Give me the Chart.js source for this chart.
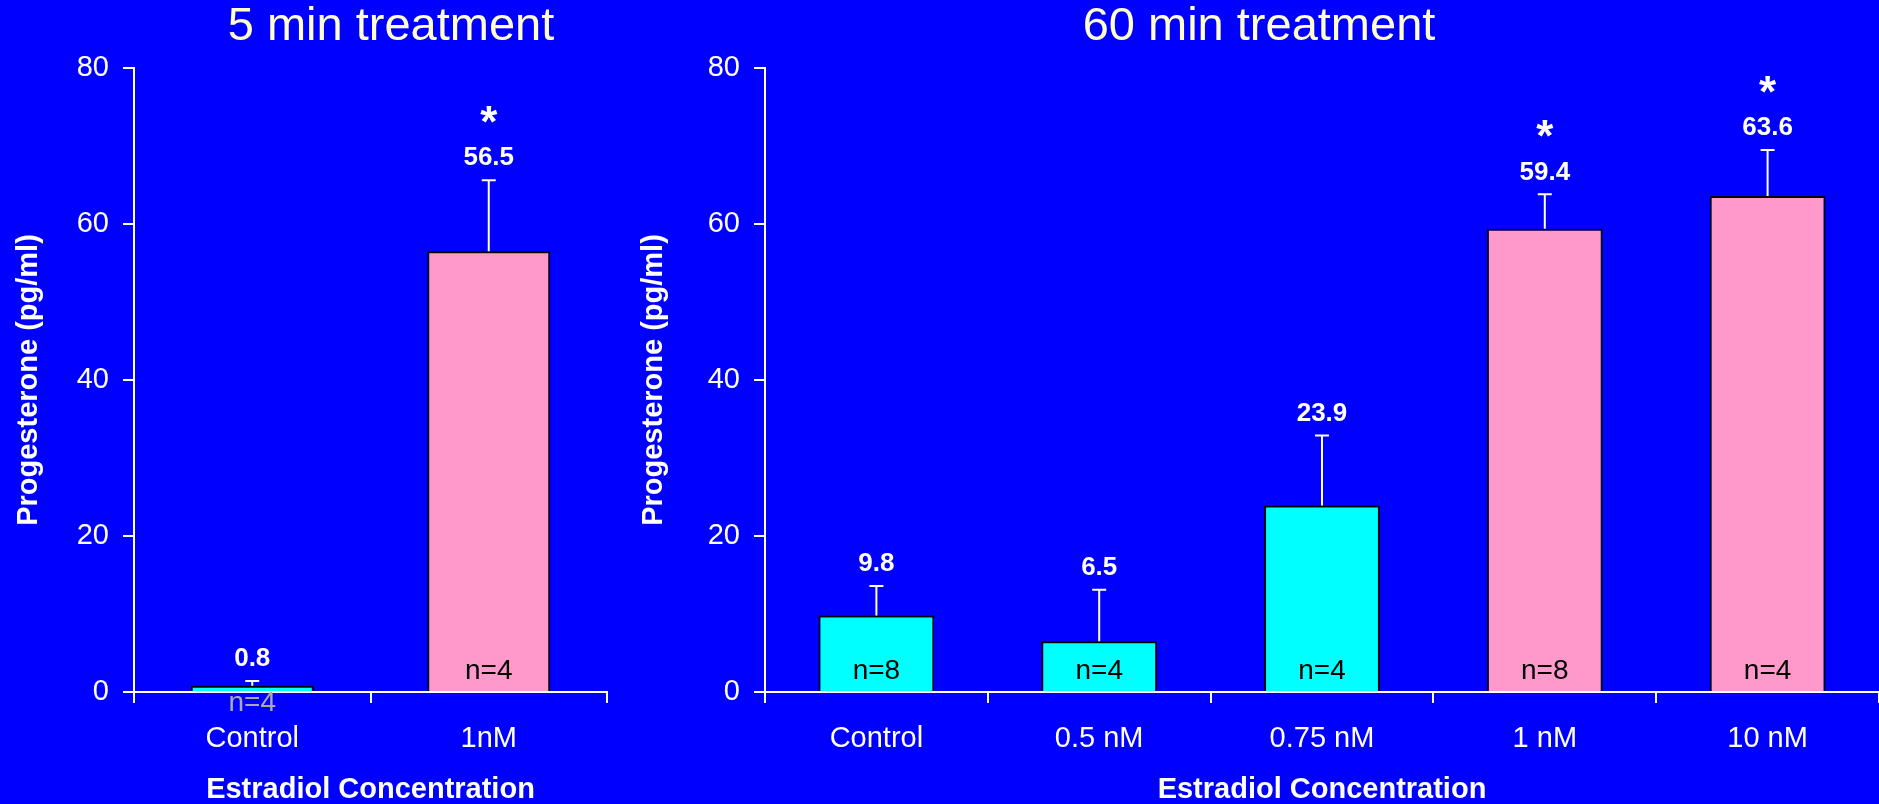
<!DOCTYPE html>
<html>
<head>
<meta charset="utf-8">
<script src="https://cdn.jsdelivr.net/npm/chart.js@4.4.1/dist/chart.umd.min.js"></script>
<style>
  html, body { margin: 0; padding: 0; background: #0000ff; overflow: hidden; }
  body { width: 1879px; height: 804px; position: relative; }
  .box { position: absolute; top: 0; height: 804px; }
  #left { left: 0; width: 782px; }
  #right { left: 639px; width: 1240px; }
</style>
</head>
<body>
<div class="box" id="left"><canvas id="chart5"></canvas></div>
<div class="box" id="right"><canvas id="chart60"></canvas></div>
<script>
// ---- data ----
const labels5 = ["Control", "1nM"];
const means5 = [0.8, 56.5];
const sem5 = [0.6, 9.1];
const n5 = ["n=4", "n=4"];
const sig5 = [false, true];
const colors5 = ["#00ffff", "#ff99cc"];

const labels60 = ["Control", "0.5 nM", "0.75 nM", "1 nM", "10 nM"];
const means60 = [9.8, 6.5, 23.9, 59.4, 63.6];
const sem60 = [3.8, 6.6, 9.0, 4.4, 5.9];
const n60 = ["n=8", "n=4", "n=4", "n=8", "n=4"];
const sig60 = [false, false, false, true, true];
const colors60 = ["#00ffff", "#00ffff", "#00ffff", "#ff99cc", "#ff99cc"];

const yTicks = [0, 20, 40, 60, 80];

const FONT = "'Liberation Sans', Arial, sans-serif";

// error bars, value labels, stars and n= labels
const errorBars = {
  id: 'errorBars',
  afterDatasetsDraw(chart, args, opts) {
    const ctx = chart.ctx;
    const yScale = chart.scales.y;
    const vals = chart.data.datasets[0].data;
    const meta = chart.getDatasetMeta(0);
    ctx.save();
    meta.data.forEach((bar, i) => {
      const x = bar.x;
      const top = yScale.getPixelForValue(vals[i] + opts.sem[i]);
      // whisker
      ctx.strokeStyle = '#ffffff';
      ctx.lineWidth = 2;
      ctx.beginPath();
      ctx.moveTo(x, bar.y);
      ctx.lineTo(x, top);
      ctx.moveTo(x - 7, top);
      ctx.lineTo(x + 7, top);
      ctx.stroke();
      // value
      ctx.fillStyle = '#ffffff';
      ctx.textAlign = 'center';
      ctx.textBaseline = 'middle';
      ctx.font = "bold 26px " + FONT;
      const ly = top - 22;
      ctx.fillText(vals[i].toFixed(1), x, ly);
      if (opts.sig[i]) {
        ctx.font = "bold 44px " + FONT;
        ctx.textBaseline = 'alphabetic';
        ctx.fillText('*', x, ly - 46 + 25);
      }
      // n label
      ctx.font = "28px " + FONT;
      ctx.textBaseline = 'middle';
      if (bar.base - bar.y < 40) {
        ctx.fillStyle = '#aaaaaa';
        ctx.fillText(opts.n[i], x, bar.base + 12);
      } else {
        ctx.fillStyle = '#000000';
        ctx.fillText(opts.n[i], x, bar.base - 20);
      }
    });
    ctx.restore();
  }
};

function makeChart(id, title, labels, means, colors, sem, nLab, sig, axisWidth, padRight, yTitlePad) {
  const scales = {
    x: {
      grid: {
        display: true, drawOnChartArea: false, drawTicks: true,
        tickLength: 11, color: '#ffffff', lineWidth: 2, offset: true
      },
      border: { display: true, color: '#ffffff', width: 2 },
      ticks: { color: '#ffffff', font: { family: FONT, size: 29 }, padding: 19 },
      title: {
        display: true, text: 'Estradiol Concentration', color: '#ffffff',
        font: { family: FONT, size: 29, weight: 'bold', lineHeight: 1 },
        padding: { top: 0, bottom: 0 }
      },
      afterFit(scale) { scale.height = 804 - 692; }
    },
    y: {
      min: 0,
      max: 80,
      afterBuildTicks(scale) { scale.ticks = yTicks.map(v => ({ value: v })); },
      grid: {
        display: true, drawOnChartArea: false, drawTicks: true,
        tickLength: 11, color: '#ffffff', lineWidth: 2
      },
      border: { display: true, color: '#ffffff', width: 2 },
      ticks: { color: '#ffffff', font: { family: FONT, size: 29 }, padding: 14 },
      title: {
        display: true, text: 'Progesterone (pg/ml)', color: '#ffffff',
        font: { family: FONT, size: 29, weight: 'bold', lineHeight: 1 },
        padding: { top: yTitlePad, bottom: 0 }
      },
      afterFit(scale) { scale.width = axisWidth; }
    }
  };
  if (padRight > 0) {
    // empty spacer axis so the title stays centred on the whole canvas
    scales.spacer = {
      type: 'linear', position: 'right', display: true,
      grid: { display: false }, border: { display: false }, ticks: { display: false },
      afterFit(scale) { scale.width = padRight; }
    };
  }
  return new Chart(document.getElementById(id), {
    type: 'bar',
    data: {
      labels: labels,
      datasets: [{
        data: means,
        backgroundColor: colors,
        borderColor: '#000000',
        borderWidth: 2,
        barPercentage: 0.52,
        categoryPercentage: 1.0
      }]
    },
    options: {
      responsive: true,
      maintainAspectRatio: false,
      animation: false,
      layout: { padding: 0 },
      plugins: {
        legend: { display: false },
        tooltip: { enabled: false },
        title: {
          display: true,
          text: title,
          color: '#ffffcc',
          font: { family: FONT, size: 47, weight: 'normal', lineHeight: 1 },
          padding: { top: 4, bottom: 17 }
        },
        errorBars: { sem: sem, n: nLab, sig: sig }
      },
      scales: scales
    },
    plugins: [errorBars]
  });
}

makeChart('chart5', '5 min treatment', labels5, means5, colors5, sem5, n5, sig5, 134, 175, 14);
makeChart('chart60', '60 min treatment', labels60, means60, colors60, sem60, n60, sig60, 126, 0, 0);
</script>
</body>
</html>
